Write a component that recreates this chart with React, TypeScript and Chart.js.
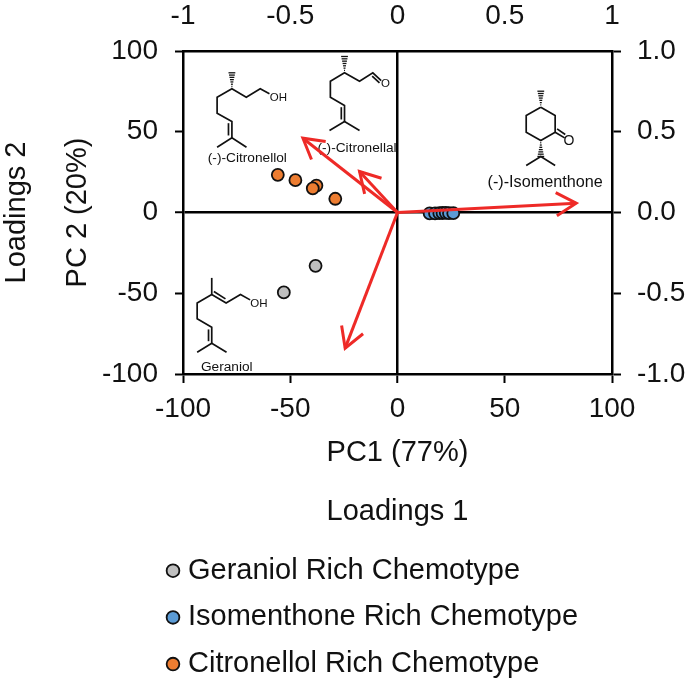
import React, { useEffect, useRef } from "react";
import { Chart, registerables } from "chart.js";

Chart.register(...registerables);

const FONT = "'Liberation Sans', Arial, sans-serif";

// Scores (PC1, PC2)
const geraniolPC1 = [-38.2, -53];
const geraniolPC2 = [-33, -49.5];
const isomenthonePC1 = [15, 17.5, 19.5, 21, 22.5, 24, 26];
const isomenthonePC2 = [-0.6, -0.6, -0.4, -0.3, -0.2, -0.4, -0.4];
const citronellolPC1 = [-55.8, -47.6, -37.8, -39.5, -29];
const citronellolPC2 = [23.3, 20, 16.7, 15, 8.5];

// Loadings arrows (tips, on the loadings axes)
const loadingTips1 = [0.833, -0.441, -0.177, -0.244];
const loadingTips2 = [0.058, 0.46, 0.254, -0.84];

// Tick labels
const pcTicks = [-100, -50, 0, 50, 100];
const topTicks = ["-1", "-0.5", "0", "0.5", "1"];
const rightTicks = ["-1.0", "-0.5", "0.0", "0.5", "1.0"];

const seriesNames = ["Geraniol Rich Chemotype", "Isomenthone Rich Chemotype", "Citronellol Rich Chemotype"];
const seriesColors = ["#BFBFBF", "#5B9BD5", "#ED7D31"];

// Structure sketches: strokes in PC-axis units
type P = [number, number];
const citronellolBonds: P[][] = [
  [[-59.7, 73.5], [-64, 76.6], [-70.5, 71.4], [-77.2, 76.6], [-84.1, 71.4], [-84.1, 61.5], [-77.2, 56.3], [-77.2, 46.3]],
  [[-84.1, 40.4], [-77.2, 46.3], [-70.4, 40.4]],
  [[-78.8, 55.3], [-78.8, 47.7]],
];
const citronellalBonds: P[][] = [
  [[-7.6, 81.7], [-11.5, 86.5], [-17.7, 81.3], [-24.7, 86.5], [-31.3, 81.3], [-31.3, 71.4], [-24.7, 66.3], [-24.7, 56.3]],
  [[-31.7, 50.8], [-24.7, 56.3], [-17.7, 50.8]],
  [[-26.2, 65.2], [-26.2, 57.6]],
  [[-11.8, 84.4], [-8.4, 80.3]],
];
const isomenthoneBonds: P[][] = [
  [[66.8, 65.2], [73.5, 60], [73.5, 49.7], [66.8, 44.6], [60, 49.7], [60, 60], [66.8, 65.2]],
  [[73.5, 49.7], [77.9, 46.2]],
  [[74.4, 51.8], [78.2, 48.3]],
  [[60, 29.1], [66.8, 34.7], [73.5, 29.1]],
];
const geraniolBonds: P[][] = [
  [[-68.7, -54.1], [-73.2, -50.8], [-79.9, -56.1], [-86.6, -50.8], [-93.4, -56.1], [-93.4, -65.8], [-86.6, -71], [-86.6, -80.9]],
  [[-86.6, -50.8], [-86.6, -40.5]],
  [[-85.6, -48.9], [-80.2, -53.5]],
  [[-93.4, -86.5], [-86.6, -80.9], [-79.7, -86.5]],
  [[-88.1, -72.4], [-88.1, -79.7]],
];
const moleculeBonds = [citronellolBonds, citronellalBonds, isomenthoneBonds, geraniolBonds];
// Hashed wedges: narrow end, wide end
const hashedWedges: [P, P][] = [
  [[-77.2, 76.6], [-77.2, 86.5]],
  [[-24.7, 86.5], [-24.7, 96.6]],
  [[66.8, 65.2], [66.8, 75.1]],
  [[66.8, 44.6], [66.8, 34.7]],
];
const moleculeTexts: { t: string; at: P; align: CanvasTextAlign; size: number }[] = [
  { t: "(-)-Citronellol", at: [-70, 33.9], align: "center", size: 13.7 },
  { t: "(-)-Citronellal", at: [-37.3, 40], align: "left", size: 13.7 },
  { t: "(-)-Isomenthone", at: [68.8, 18.8], align: "center", size: 16.2 },
  { t: "Geraniol", at: [-79.6, -95.8], align: "center", size: 13.7 },
  { t: "OH", at: [-55.5, 71], align: "center", size: 11.5 },
  { t: "O", at: [-5.6, 79.7], align: "center", size: 11.5 },
  { t: "O", at: [79.9, 44.4], align: "center", size: 14 },
  { t: "OH", at: [-64.6, -56.5], align: "center", size: 11.5 },
];

const pairs = (xs: number[], ys: number[]) => xs.map((x, i) => ({ x, y: ys[i] }));

const moleculesPlugin = {
  id: "molecules",
  beforeDraw(chart: any) {
    const { ctx, scales } = chart;
    const px = (p: P) => [scales.x.getPixelForValue(p[0]), scales.y.getPixelForValue(p[1])];
    ctx.save();
    ctx.strokeStyle = "#111";
    ctx.lineJoin = "miter";
    ctx.lineWidth = 1.7;
    moleculeBonds.forEach((bonds) =>
      bonds.forEach((stroke) => {
        ctx.beginPath();
        stroke.forEach((p, i) => {
          const [x, y] = px(p);
          if (i) ctx.lineTo(x, y);
          else ctx.moveTo(x, y);
        });
        ctx.stroke();
      })
    );
    ctx.lineWidth = 1.3;
    hashedWedges.forEach(([a, b]) => {
      const [ax, ay] = px(a);
      const [, by] = px(b);
      const steps = 7;
      for (let i = 1; i <= steps; i++) {
        const f = i / steps;
        const y = ay + (by - ay) * f;
        const hw = 3.4 * f;
        ctx.beginPath();
        ctx.moveTo(ax - hw, y);
        ctx.lineTo(ax + hw, y);
        ctx.stroke();
      }
    });
    ctx.fillStyle = "#111";
    ctx.textBaseline = "middle";
    moleculeTexts.forEach(({ t, at, align, size }) => {
      const [x, y] = px(at);
      ctx.font = `${size}px ${FONT}`;
      ctx.textAlign = align;
      ctx.fillText(t, x, y);
    });
    ctx.restore();
  },
};

const arrowHeadPlugin = {
  id: "arrowHeads",
  afterDatasetsDraw(chart: any) {
    const { ctx } = chart;
    ctx.save();
    ctx.strokeStyle = "#EE2A27";
    ctx.lineWidth = 3;
    ctx.lineJoin = "miter";
    chart.data.datasets.forEach((ds: any, i: number) => {
      if (!ds.isArrow) return;
      const pts = chart.getDatasetMeta(i).data;
      const a = pts[0];
      const b = pts[1];
      const ang = Math.atan2(a.y - b.y, a.x - b.x);
      const L = 23;
      const s = (30 * Math.PI) / 180;
      ctx.beginPath();
      ctx.moveTo(b.x + L * Math.cos(ang + s), b.y + L * Math.sin(ang + s));
      ctx.lineTo(b.x, b.y);
      ctx.lineTo(b.x + L * Math.cos(ang - s), b.y + L * Math.sin(ang - s));
      ctx.stroke();
    });
    ctx.restore();
  },
};

const legendPlacePlugin = {
  id: "legendPlace",
  afterLayout(chart: any) {
    const lg = chart.legend;
    if (!lg) return;
    lg.left = 154.8;
    lg.right = 688;
    lg.top = 538.5;
    lg.bottom = 683;
  },
};

export default function App() {
  const ref = useRef<HTMLCanvasElement>(null);
  useEffect(() => {
    const tickFont = { family: FONT, size: 28 };
    const titleFont = { family: FONT, size: 29 };
    const border = { display: true, color: "#000", width: 2.5 };
    const hiddenAxis = (axis: string, position: string, text: string, padding: any, size: number, weight: number) => ({
      type: "linear",
      axis,
      position,
      weight,
      min: -1,
      max: 1,
      grid: { display: false, drawTicks: false },
      border: { display: false },
      ticks: { display: false },
      title: { display: true, text, color: "#111", font: titleFont, padding },
      afterFit(s: any) {
        if (axis === "x") s.height = size;
        else s.width = size;
      },
    });
    const chart = new Chart(ref.current as HTMLCanvasElement, {
      type: "scatter",
      data: {
        datasets: [
          ...loadingTips1.map((x, i) => ({
            label: `Loading ${i + 1}`,
            isArrow: true,
            type: "line",
            data: [{ x: 0, y: 0 }, { x, y: loadingTips2[i] }],
            xAxisID: "x2",
            yAxisID: "y2",
            borderColor: "#EE2A27",
            borderWidth: 3,
            pointRadius: 0,
            fill: false,
            clip: false,
          })),
          ...[
            pairs(geraniolPC1, geraniolPC2),
            pairs(isomenthonePC1, isomenthonePC2),
            pairs(citronellolPC1, citronellolPC2),
          ].map((data, i) => ({
            label: seriesNames[i],
            data,
            xAxisID: "x",
            yAxisID: "y",
            backgroundColor: seriesColors[i],
            borderColor: "#111",
            borderWidth: 1.8,
            pointRadius: 6,
            pointStyle: "circle",
          })),
        ] as any,
      },
      plugins: [moleculesPlugin, arrowHeadPlugin, legendPlacePlugin] as any,
      options: {
        responsive: false,
        animation: false,
        layout: { padding: 0 },
        plugins: {
          tooltip: { enabled: false },
          legend: {
            display: true,
            position: "bottom",
            align: "start",
            maxHeight: 140,
            labels: {
              usePointStyle: true,
              boxWidth: 1,
              boxHeight: 9,
              padding: 17.7,
              color: "#111",
              font: { family: FONT, size: 29 },
              filter: (item: any, data: any) => !data.datasets[item.datasetIndex].isArrow,
            },
          },
        },
        scales: {
          x: {
            type: "linear",
            position: "bottom",
            weight: 0,
            min: -100,
            max: 100,
            border,
            grid: {
              color: (c: any) => (c.tick && c.tick.value === 0 ? "#000" : "rgba(0,0,0,0)"),
              lineWidth: (c: any) => (c.tick && c.tick.value === 0 ? 2.5 : 1),
              tickColor: "#000",
              tickWidth: 2,
              tickLength: 9,
            },
            ticks: {
              stepSize: 50,
              color: "#111",
              font: tickFont,
              maxRotation: 0,
              padding: 9,
              callback: (v: any) => (pcTicks.includes(v) ? String(v) : ""),
            },
            title: { display: true, text: "PC1 (77%)", color: "#111", font: titleFont, padding: { top: 0, bottom: 0 } },
            afterFit(s: any) {
              s.height = 96;
            },
          },
          x3: hiddenAxis("x", "bottom", "Loadings 1", { top: 0, bottom: 13.6 }, 73, 1),
          x2: {
            type: "linear",
            position: "top",
            min: -1,
            max: 1,
            border,
            grid: { drawOnChartArea: false, drawTicks: false },
            ticks: {
              stepSize: 0.5,
              color: "#111",
              font: tickFont,
              maxRotation: 0,
              padding: 17.5,
              callback: (_v: any, i: number) => topTicks[i],
            },
            afterFit(s: any) {
              s.height = 51;
            },
          },
          y: {
            type: "linear",
            position: "left",
            weight: 0,
            min: -100,
            max: 100,
            border,
            grid: {
              color: (c: any) => (c.tick && c.tick.value === 0 ? "#000" : "rgba(0,0,0,0)"),
              lineWidth: (c: any) => (c.tick && c.tick.value === 0 ? 2.5 : 1),
              tickColor: "#000",
              tickWidth: 2,
              tickLength: 8,
            },
            ticks: {
              stepSize: 50,
              color: "#111",
              font: tickFont,
              padding: 17,
              callback: (v: any) => (pcTicks.includes(v) ? String(v) : ""),
            },
            title: { display: true, text: "PC 2 (20%)", color: "#111", font: titleFont, padding: { top: 24.6, bottom: 0 } },
            afterFit(s: any) {
              s.width = 147;
            },
          },
          y3: hiddenAxis("y", "left", "Loadings 2", { top: 0, bottom: 0 }, 36, 1),
          y2: {
            type: "linear",
            position: "right",
            min: -1,
            max: 1,
            border,
            grid: { drawOnChartArea: false, color: "#000", tickColor: "#000", tickWidth: 2, tickLength: 9 },
            ticks: {
              stepSize: 0.5,
              color: "#111",
              font: tickFont,
              padding: 16,
              callback: (_v: any, i: number) => rightTicks[i],
            },
            afterFit(s: any) {
              s.width = 76;
            },
          },
        },
      } as any,
    });
    return () => chart.destroy();
  }, []);
  return (
    <canvas
      ref={ref}
      width={688}
      height={683}
      style={{ position: "absolute", left: 0, top: 0, width: 688, height: 683, display: "block" }}
    />
  );
}
